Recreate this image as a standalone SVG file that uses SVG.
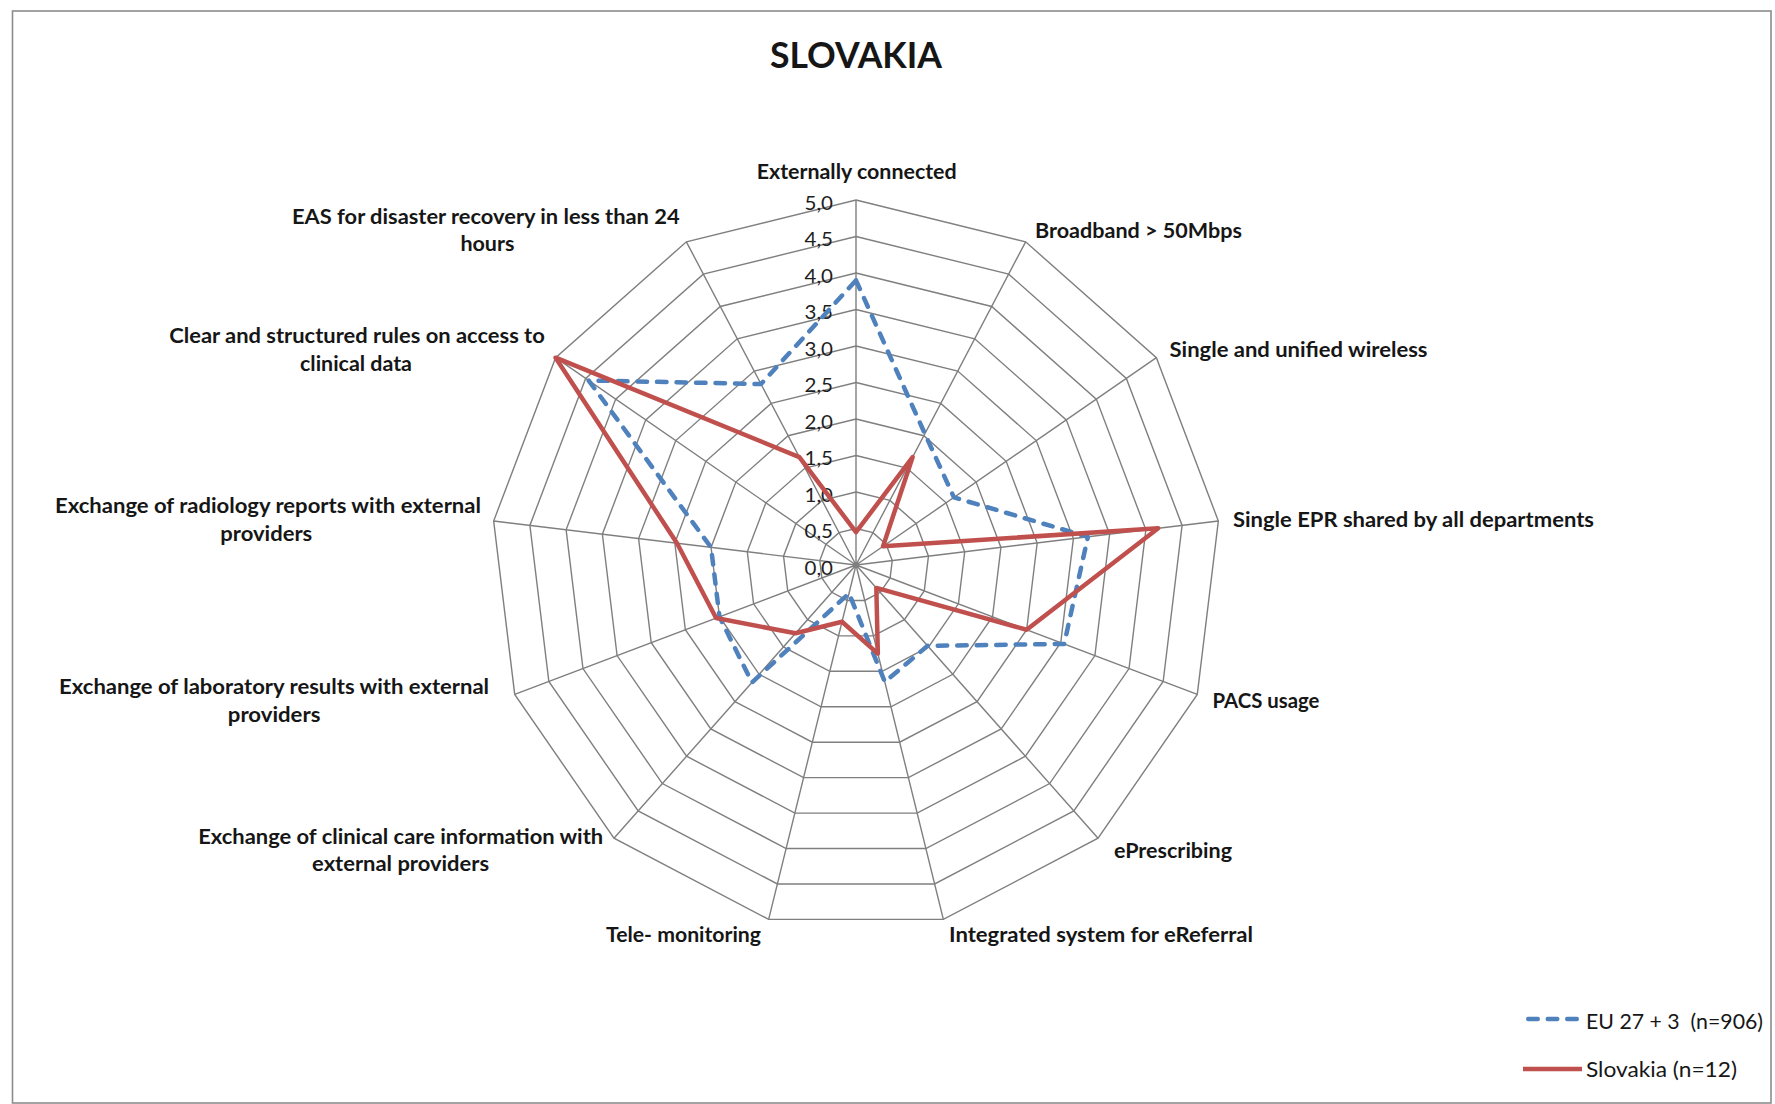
<svg xmlns="http://www.w3.org/2000/svg" xmlns:xlink="http://www.w3.org/1999/xlink" width="1775" height="1104" viewBox="0 0 1775 1104">
<style>
.lbl{font-family:Lato,"Liberation Sans",Arial,sans-serif;font-weight:bold;font-size:20.5px;fill:#161616}
.tick{font-family:Lato,"Liberation Sans",Arial,sans-serif;font-size:19.5px;fill:#1e1e1e;text-anchor:end}
.leg{font-family:Lato,"Liberation Sans",Arial,sans-serif;font-size:21px;fill:#161616}
.title{font-family:Lato,"Liberation Sans",Arial,sans-serif;font-weight:bold;font-size:36px;fill:#161616;text-anchor:middle}
.mid{text-anchor:middle}
.grid{fill:none;stroke:#7f7f7f;stroke-width:1.4}
.eu{fill:none;stroke:#4F81BD;stroke-width:4.5;stroke-dasharray:9.5 10;stroke-linecap:round;stroke-linejoin:round}
.sk{fill:none;stroke:#C0504D;stroke-width:4.5;stroke-linejoin:round}
</style>
<defs>
<polygon id="ring" vector-effect="non-scaling-stroke" points="0,-1 0.46472,-0.88546 0.82298,-0.56806 0.99271,-0.12054 0.93502,0.3546 0.66312,0.74851 0.23932,0.97094 -0.23932,0.97094 -0.66312,0.74851 -0.93502,0.3546 -0.99271,-0.12054 -0.82298,-0.56806 -0.46472,-0.88546"/>
</defs>
<rect x="0" y="0" width="1775" height="1104" fill="#ffffff"/>
<rect id="frame" x="12.5" y="11" width="1758.5" height="1092" fill="none" stroke="#8c8c8c" stroke-width="1.6"/>
<g id="title"><text class="title" x="856" y="68" textLength="172" lengthAdjust="spacingAndGlyphs">SLOVAKIA</text></g>
<g id="grid" class="grid">
<use xlink:href="#ring" transform="translate(856 565) scale(36.5)"/>
<use xlink:href="#ring" transform="translate(856 565) scale(73)"/>
<use xlink:href="#ring" transform="translate(856 565) scale(109.5)"/>
<use xlink:href="#ring" transform="translate(856 565) scale(146)"/>
<use xlink:href="#ring" transform="translate(856 565) scale(182.5)"/>
<use xlink:href="#ring" transform="translate(856 565) scale(219)"/>
<use xlink:href="#ring" transform="translate(856 565) scale(255.5)"/>
<use xlink:href="#ring" transform="translate(856 565) scale(292)"/>
<use xlink:href="#ring" transform="translate(856 565) scale(328.5)"/>
<use xlink:href="#ring" transform="translate(856 565) scale(365)"/>
<path d="M856,565L856,200M856,565L1025.62,241.81M856,565L1156.39,357.66M856,565L1218.34,521M856,565L1197.28,694.43M856,565L1098.04,838.21M856,565L943.35,919.39M856,565L768.65,919.39M856,565L613.96,838.21M856,565L514.72,694.43M856,565L493.66,521M856,565L555.61,357.66M856,565L686.38,241.81"/>
</g>
<g id="ticks">
<text class="tick" x="833" y="574.5" textLength="28.5" lengthAdjust="spacingAndGlyphs">0,0</text>
<text class="tick" x="833" y="538" textLength="28.5" lengthAdjust="spacingAndGlyphs">0,5</text>
<text class="tick" x="833" y="501.5" textLength="28.5" lengthAdjust="spacingAndGlyphs">1,0</text>
<text class="tick" x="833" y="465" textLength="28.5" lengthAdjust="spacingAndGlyphs">1,5</text>
<text class="tick" x="833" y="428.5" textLength="28.5" lengthAdjust="spacingAndGlyphs">2,0</text>
<text class="tick" x="833" y="392" textLength="28.5" lengthAdjust="spacingAndGlyphs">2,5</text>
<text class="tick" x="833" y="355.5" textLength="28.5" lengthAdjust="spacingAndGlyphs">3,0</text>
<text class="tick" x="833" y="319" textLength="28.5" lengthAdjust="spacingAndGlyphs">3,5</text>
<text class="tick" x="833" y="282.5" textLength="28.5" lengthAdjust="spacingAndGlyphs">4,0</text>
<text class="tick" x="833" y="246" textLength="28.5" lengthAdjust="spacingAndGlyphs">4,5</text>
<text class="tick" x="833" y="209.5" textLength="28.5" lengthAdjust="spacingAndGlyphs">5,0</text>
</g>
<g id="connectors">
<polygon id="series-eu" class="eu" points="856,280.3 924.87,433.78 953.93,497.4 1087.9,536.84 1064.18,643.95 927.62,645.84 884.83,681.95 849.01,593.35 751.92,682.48 719.49,616.77 711.06,547.4 588.65,380.47 761.01,384.01"/>
<polygon id="series-sk" class="sk" points="856,532.15 912.65,457.06 883.03,546.34 1158.18,528.31 1026.64,629.71 876.33,587.95 877.84,653.6 842.02,621.7 795.49,633.3 716.07,618.07 677.01,543.27 555.61,357.66 799.35,457.06"/>
</g>
<g id="label-externally"><text class="lbl mid" x="856.7" y="178.5" textLength="200" lengthAdjust="spacingAndGlyphs">Externally connected</text></g>
<g id="label-broadband"><text class="lbl" x="1035" y="237.5" textLength="207" lengthAdjust="spacingAndGlyphs">Broadband &gt; 50Mbps</text></g>
<g id="label-wireless"><text class="lbl" x="1169.5" y="357" textLength="258" lengthAdjust="spacingAndGlyphs">Single and unified wireless</text></g>
<g id="label-epr"><text class="lbl" x="1233" y="527" textLength="361" lengthAdjust="spacingAndGlyphs">Single EPR shared by all departments</text></g>
<g id="label-pacs"><text class="lbl" x="1212.5" y="708" textLength="107" lengthAdjust="spacingAndGlyphs">PACS usage</text></g>
<g id="label-eprescribing"><text class="lbl" x="1114" y="858" textLength="118" lengthAdjust="spacingAndGlyphs">ePrescribing</text></g>
<g id="label-ereferral"><text class="lbl" x="949" y="942" textLength="304" lengthAdjust="spacingAndGlyphs">Integrated system for eReferral</text></g>
<g id="label-telemonitoring"><text class="lbl" x="606" y="942" textLength="155" lengthAdjust="spacingAndGlyphs">Tele- monitoring</text></g>
<g id="label-clinical-care">
<text class="lbl mid" x="400.7" y="844" textLength="405" lengthAdjust="spacingAndGlyphs">Exchange of clinical care information with</text>
<text class="lbl mid" x="400.6" y="871" textLength="177" lengthAdjust="spacingAndGlyphs">external providers</text>
</g>
<g id="label-laboratory">
<text class="lbl mid" x="274.1" y="694" textLength="430" lengthAdjust="spacingAndGlyphs">Exchange of laboratory results with external</text>
<text class="lbl mid" x="274.1" y="722" textLength="92.6" lengthAdjust="spacingAndGlyphs">providers</text>
</g>
<g id="label-radiology">
<text class="lbl mid" x="268" y="513" textLength="426" lengthAdjust="spacingAndGlyphs">Exchange of radiology reports with external</text>
<text class="lbl mid" x="266.3" y="541" textLength="92" lengthAdjust="spacingAndGlyphs">providers</text>
</g>
<g id="label-rules">
<text class="lbl mid" x="357" y="343" textLength="375.5" lengthAdjust="spacingAndGlyphs">Clear and structured rules on access to</text>
<text class="lbl mid" x="356" y="371" textLength="112" lengthAdjust="spacingAndGlyphs">clinical data</text>
</g>
<g id="label-eas">
<text class="lbl mid" x="485.8" y="224" textLength="387.5" lengthAdjust="spacingAndGlyphs">EAS for disaster recovery in less than 24</text>
<text class="lbl mid" x="487.4" y="251" textLength="54" lengthAdjust="spacingAndGlyphs">hours</text>
</g>
<g id="legend">
<line class="eu" x1="1528.25" y1="1019" x2="1576.75" y2="1019"/>
<text class="leg" x="1586" y="1029" textLength="177" lengthAdjust="spacingAndGlyphs" xml:space="preserve">EU 27 + 3  (n=906)</text>
<line x1="1523" y1="1069" x2="1582" y2="1069" stroke="#C0504D" stroke-width="4.5"/>
<text class="leg" x="1586" y="1077" textLength="151" lengthAdjust="spacingAndGlyphs">Slovakia (n=12)</text>
</g>
</svg>
